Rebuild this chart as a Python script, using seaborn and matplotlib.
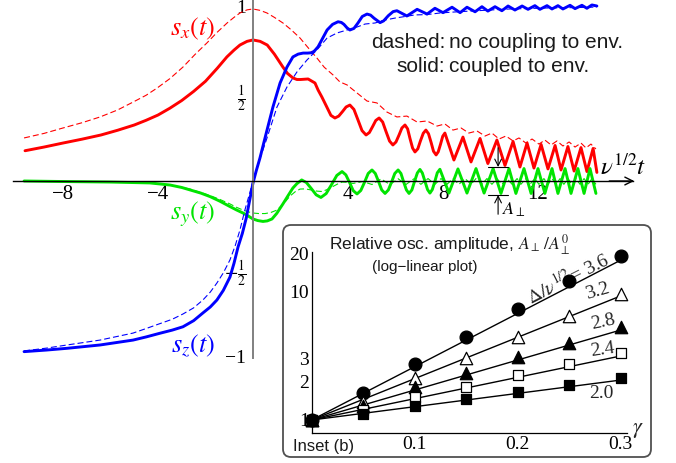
import matplotlib
matplotlib.use("Agg")
import matplotlib.pyplot as plt
import numpy as np
import pandas as pd
import seaborn as sns
from matplotlib.patches import FancyBboxPatch
from matplotlib.transforms import IdentityTransform
from matplotlib.ticker import FixedLocator, NullFormatter

# ---------------- main panel data ----------------
red_solid_t = [-9.6, -8.8, -8.0, -7.2, -6.4, -5.7, -5.0, -4.5, -4.0, -3.5,
               -3.0, -2.5, -2.0, -1.5, -1.1, -0.8, -0.55, -0.25, 0.0, 0.3,
               0.6, 0.9, 1.26, 1.45, 1.68, 1.85, 2.0, 2.32, 2.61, 2.74,
               2.9, 3.1, 3.28, 3.45, 3.61, 3.77, 3.92, 4.08, 4.25, 4.42,
               4.59, 4.76, 4.90, 5.04, 5.17, 5.31, 5.46, 5.60, 5.75, 5.89,
               6.02, 6.15, 6.27, 6.40, 6.51, 6.61, 6.72, 6.82, 6.94, 7.05,
               7.17, 7.28, 7.39, 7.50, 7.60, 7.71, 7.80, 7.90, 7.99, 8.08,
               8.46, 8.84, 9.18, 9.56, 9.89, 10.27, 10.61, 10.95, 11.24, 11.54,
               11.83, 12.13, 12.42, 12.72, 12.97, 13.26, 13.52, 13.81, 14.06, 14.32,
               14.48]
red_solid_s = [0.173, 0.194, 0.217, 0.239, 0.263, 0.29, 0.32, 0.347, 0.377, 0.416,
               0.46, 0.512, 0.57, 0.645, 0.709, 0.748, 0.777, 0.798, 0.806, 0.798,
               0.777, 0.725, 0.651, 0.615, 0.589, 0.58, 0.58, 0.583, 0.56, 0.52,
               0.48, 0.425, 0.375, 0.36, 0.371, 0.397, 0.423, 0.434, 0.409, 0.349,
               0.288, 0.263, 0.277, 0.312, 0.346, 0.36, 0.337, 0.283, 0.228, 0.206,
               0.223, 0.263, 0.303, 0.32, 0.298, 0.243, 0.188, 0.166, 0.184, 0.229,
               0.273, 0.291, 0.27, 0.22, 0.17, 0.149, 0.167, 0.212, 0.256, 0.274,
               0.12, 0.251, 0.109, 0.243, 0.10, 0.234, 0.089, 0.226, 0.08, 0.217,
               0.074, 0.209, 0.069, 0.203, 0.063, 0.197, 0.057, 0.191, 0.054, 0.186,
               0.049]

red_dash_t = [-9.64, -8.8, -8.0, -7.2, -6.44, -5.7, -5.05, -4.5, -4.04, -3.5,
              -2.95, -2.45, -1.94, -1.5, -1.09, -0.8, -0.55, -0.25, 0.0, 0.3,
              0.59, 0.9, 1.26, 1.6, 1.98, 2.3, 2.69, 3.0, 3.37, 3.66,
              3.96, 4.38, 4.80, 5.22, 5.64, 6.06, 6.48, 6.91, 7.33, 7.75,
              8.08, 8.42, 8.76, 9.09, 9.43, 9.77, 10.06, 10.36, 10.65, 10.95,
              11.2, 11.49, 11.75, 12.04, 12.29, 12.55, 12.8, 13.05, 13.31, 13.56,
              13.81, 14.02, 14.23, 14.44]
red_dash_s = [0.246, 0.272, 0.303, 0.333, 0.366, 0.406, 0.451, 0.49, 0.531, 0.585,
              0.651, 0.722, 0.789, 0.851, 0.903, 0.935, 0.96, 0.978, 0.983, 0.975,
              0.96, 0.935, 0.903, 0.865, 0.817, 0.765, 0.703, 0.65, 0.606, 0.566,
              0.549, 0.503, 0.457, 0.446, 0.394, 0.366, 0.371, 0.337, 0.343, 0.314,
              0.326, 0.291, 0.303, 0.274, 0.286, 0.257, 0.274, 0.24, 0.257, 0.229,
              0.246, 0.217, 0.24, 0.211, 0.234, 0.206, 0.229, 0.2, 0.223, 0.194,
              0.217, 0.189, 0.211, 0.183]

blue_solid_t = [-9.64, -8.7, -7.83, -6.44, -5.05, -4.5, -3.92, -3.4, -2.95, -2.5,
                -2.11, -1.8, -1.52, -1.25, -0.97, -0.8, -0.63, -0.45, -0.29, -0.14,
                0.0, 0.14, 0.29, 0.59, 0.84, 1.14, 1.43, 1.68, 1.9, 2.11,
                2.3, 2.48, 2.6, 2.74, 2.95, 3.12, 3.35, 3.58, 3.72, 3.83,
                3.96, 4.08, 4.25, 4.42, 4.6, 4.8, 4.95, 5.1, 5.35, 5.5,
                5.7, 5.9, 6.06, 6.48, 6.91, 7.33, 7.66, 8.0, 8.38, 8.72,
                9.01, 9.35, 9.64, 9.89, 10.19, 10.48, 10.74, 11.03, 11.33, 11.58,
                11.87, 12.08, 12.38, 12.59, 12.84, 13.05, 13.35, 13.56, 13.85, 14.06,
                14.27, 14.48]
blue_solid_s = [-0.975, -0.966, -0.956, -0.937, -0.909, -0.891, -0.87, -0.852, -0.833, -0.798,
                -0.754, -0.72, -0.68, -0.625, -0.549, -0.47, -0.377, -0.3, -0.215, -0.11,
                -0.011, 0.06, 0.13, 0.291, 0.423, 0.56, 0.651, 0.709, 0.725, 0.731,
                0.731, 0.733, 0.745, 0.767, 0.82, 0.863, 0.895, 0.91, 0.906, 0.895,
                0.875, 0.863, 0.872, 0.903, 0.94, 0.954, 0.948, 0.93, 0.905, 0.915,
                0.945, 0.968, 0.973, 0.943, 0.981, 0.954, 0.987, 0.962, 0.993, 0.962,
                0.993, 0.967, 0.996, 0.971, 0.996, 0.973, 1.0, 0.977, 1.0, 0.981,
                1.002, 0.981, 1.002, 0.983, 1.002, 0.983, 1.004, 0.985, 1.004, 0.987,
                1.006, 1.0]

blue_dash_t = [-9.64, -8.7, -7.83, -6.44, -5.05, -4.5, -3.92, -3.4, -2.95, -2.5,
               -2.11, -1.8, -1.52, -1.25, -0.97, -0.75, -0.55, -0.34, -0.13, 0.0,
               0.29, 0.59, 1.01, 1.43, 1.85, 2.27, 2.69, 3.12, 3.54, 3.96,
               4.38, 4.72, 5.14, 5.56, 5.98, 6.40, 6.82, 7.33, 7.87, 8.51,
               9.14, 9.98, 10.82, 11.66, 12.50, 13.56, 14.48]
blue_dash_s = [-0.971, -0.955, -0.937, -0.909, -0.869, -0.843, -0.815, -0.79, -0.76, -0.725,
               -0.68, -0.635, -0.583, -0.525, -0.451, -0.37, -0.28, -0.165, -0.065, 0.0,
               0.126, 0.246, 0.423, 0.537, 0.623, 0.691, 0.749, 0.817, 0.846, 0.863,
               0.88, 0.897, 0.903, 0.92, 0.931, 0.94, 0.949, 0.951, 0.96, 0.966,
               0.971, 0.977, 0.983, 0.986, 0.989, 0.991, 0.994]

green_solid_t = [-9.64, -8.0, -6.02, -4.34, -3.49, -3.0, -2.65, -2.2, -1.81, -1.4,
                 -0.97, -0.7, -0.42, -0.2, 0.0, 0.2, 0.42, 0.6, 0.8, 1.0,
                 1.26, 1.47, 1.68, 1.85, 2.05, 2.25, 2.46, 2.66, 2.86, 3.08,
                 3.31, 3.53, 3.75, 3.91, 4.07, 4.22, 4.38, 4.54, 4.70, 4.85,
                 5.01, 5.15, 5.29, 5.42, 5.56, 5.70, 5.84, 5.97, 6.11, 6.23,
                 6.34, 6.46, 6.57, 6.69, 6.80, 6.92, 7.03, 7.13, 7.24, 7.35,
                 7.45, 7.55, 7.66, 7.76, 7.87, 8.25, 8.63, 9.01, 9.39, 9.73,
                 10.11, 10.44, 10.78, 11.07, 11.41, 11.71, 12.0, 12.29, 12.59, 12.84,
                 13.14, 13.39, 13.68, 13.94, 14.19, 14.44]
green_solid_s = [0.0, -0.003, -0.006, -0.011, -0.023, -0.037, -0.051, -0.069, -0.089, -0.115,
                 -0.146, -0.165, -0.183, -0.2, -0.217, -0.226, -0.231, -0.228, -0.217, -0.185,
                 -0.131, -0.085, -0.04, -0.015, 0.006, -0.009, -0.044, -0.079, -0.094, -0.072,
                 -0.02, 0.032, 0.054, 0.035, -0.01, -0.055, -0.074, -0.054, -0.006, 0.043,
                 0.063, 0.043, -0.004, -0.051, -0.071, -0.051, -0.004, 0.043, 0.063, 0.043,
                 -0.004, -0.051, -0.071, -0.051, -0.003, 0.046, 0.066, 0.046, -0.002, -0.049,
                 -0.069, -0.049, -0.001, 0.047, 0.067, -0.069, 0.069, -0.069, 0.071, -0.069,
                 0.071, -0.071, 0.071, -0.071, 0.071, -0.071, 0.071, -0.071, 0.071, -0.071,
                 0.071, -0.071, 0.071, -0.071, 0.071, -0.071]

green_dash_t = [-9.64, -8.0, -6.02, -4.34, -3.49, -2.65, -1.81, -1.4, -0.97, -0.7,
                -0.42, -0.2, 0.0, 0.25, 0.51, 0.75, 1.01, 1.3, 1.56, 1.77,
                1.98, 2.2, 2.44, 2.7, 2.91, 3.1, 3.33, 3.55, 3.75, 3.95,
                4.21, 4.63, 5.01, 5.39, 5.77, 6.11, 6.44, 6.78, 7.07, 7.37,
                7.66, 7.92, 8.17, 8.42, 8.67, 8.93, 9.18, 9.39, 9.64, 9.85,
                10.06, 10.27, 10.48, 10.69, 10.91, 11.12, 11.28, 11.49, 11.66, 11.87,
                12.04, 12.25, 12.42, 12.59, 12.76, 12.93, 13.09, 13.26, 13.43, 13.6,
                13.77, 13.94, 14.11, 14.27, 14.44]
green_dash_s = [0.0, -0.003, -0.006, -0.011, -0.023, -0.046, -0.083, -0.105, -0.131, -0.15,
                -0.166, -0.176, -0.183, -0.186, -0.186, -0.18, -0.166, -0.128, -0.086, -0.062,
                -0.046, -0.045, -0.051, -0.058, -0.06, -0.05, -0.034, -0.018, -0.006, -0.007,
                -0.014, -0.003, -0.02, 0.012, -0.02, 0.013, -0.02, 0.013, -0.019, 0.014,
                -0.019, 0.014, -0.019, 0.014, -0.019, 0.014, -0.019, 0.014, -0.019, 0.014,
                -0.019, 0.014, -0.019, 0.014, -0.019, 0.014, -0.019, 0.014, -0.019, 0.014,
                -0.019, 0.014, -0.019, 0.014, -0.019, 0.014, -0.019, 0.014, -0.019, 0.014,
                -0.019, 0.014, -0.019, 0.014, -0.019]

x_ticks = [-8, -4, 4, 8, 12]
x_tick_labels = ["\u22128", "\u22124", "4", "8", "12"]
y_ticks = [-1, -0.5, 0.5, 1]
y_tick_labels = ["\u22121", r"$-\frac{1}{2}$", r"$\frac{1}{2}$", "1"]

# ---------------- inset data ----------------
gamma = [0.0, 0.05, 0.10, 0.15, 0.20, 0.25, 0.30]
amp_36 = [1.0, 1.63, 2.74, 4.47, 7.39, 12.2, 19.2]
amp_32 = [1.0, 1.39, 2.14, 3.06, 4.47, 6.52, 9.63]
amp_28 = [1.0, 1.29, 1.82, 2.31, 3.09, 4.02, 5.35]
amp_24 = [1.0, 1.20, 1.52, 1.82, 2.25, 2.74, 3.32]
amp_20 = [1.0, 1.11, 1.29, 1.45, 1.64, 1.88, 2.12]
fit_gamma = [0.0, 0.30]
fit_end = [17.7, 9.3, 5.04, 3.16, 2.05]
inset_yticks = [1, 2, 3, 10, 20]
inset_xticks = [0.1, 0.2, 0.3]

# ---------------- style ----------------
sns.set_theme(style="white")
plt.rcParams["font.family"] = ["Liberation Serif", "DejaVu Serif"]
plt.rcParams["mathtext.fontset"] = "stix"

RED, GREEN, BLUE = "#ff0000", "#00e400", "#0000ff"
W, H, DPI = 676, 463, 100
fig = plt.figure(figsize=(W / DPI, H / DPI), dpi=DPI)
fig.patch.set_facecolor("white")

ax = fig.add_axes([0, 0, 1, 1])
ax.patch.set_alpha(0)
ax.set_xlim(-10.653, 17.811)
ax.set_ylim(-1.6114, 1.0343)

DASH = dict(linestyle=(0, (5.4, 2.7)), linewidth=0.8)
SOLID = dict(linewidth=2.1, solid_joinstyle="round", solid_capstyle="round")


def curve(t, s, color, style):
    df = pd.DataFrame({"t": t, "s": s})
    sns.lineplot(data=df, x="t", y="s", ax=ax, color=color, sort=False,
                 estimator=None, errorbar=None, **style)


curve(red_dash_t, red_dash_s, RED, DASH)
curve(red_solid_t, red_solid_s, RED, SOLID)
curve(green_dash_t, green_dash_s, GREEN, DASH)
curve(green_solid_t, green_solid_s, GREEN, SOLID)
curve(blue_dash_t, blue_dash_s, BLUE, DASH)
curve(blue_solid_t, blue_solid_s, BLUE, SOLID)
ax.set_xlabel("")
ax.set_ylabel("")

for sp in ["top", "right"]:
    ax.spines[sp].set_visible(False)
ax.spines["left"].set_position(("data", 0))
ax.spines["bottom"].set_position(("data", 0))
ax.spines["left"].set_bounds(-1.01, 1.04)
ax.spines["left"].set_color("#808080")
ax.spines["left"].set_linewidth(1.4)
ax.spines["bottom"].set_bounds(-10.1, 16.0)
ax.spines["bottom"].set_color("black")
ax.spines["bottom"].set_linewidth(1.0)

ax.set_xticks(x_ticks)
ax.set_xticklabels(x_tick_labels)
ax.set_yticks(y_ticks)
ax.set_yticklabels(y_tick_labels)
ax.tick_params(axis="x", direction="in", length=4, width=0.8, pad=3,
               labelsize=15, colors="black")
ax.tick_params(axis="y", direction="inout", length=6, width=0.8, pad=2,
               labelsize=14, colors="#808080", labelcolor="black")
ax.annotate("", xy=(16.05, 0), xytext=(15.0, 0),
            arrowprops=dict(arrowstyle="->", color="black", lw=1.0,
                            mutation_scale=14, shrinkA=0, shrinkB=0))

# A_perp annotation
arr = dict(arrowstyle="->", color="black", lw=0.8, mutation_scale=12,
           shrinkA=0, shrinkB=0)
ax.annotate("", xy=(10.32, 0.08), xytext=(10.32, 0.19), arrowprops=arr)
ax.annotate("", xy=(10.32, -0.08), xytext=(10.32, -0.19), arrowprops=arr)
ax.plot([9.89, 10.74], [0.08, 0.08], color="black", lw=0.8)
ax.plot([9.89, 10.74], [-0.08, -0.08], color="black", lw=0.8)

# curve labels & legend text
fig.text(193 / W, 1 - 29 / H, r"$s_x(t)$", color=RED, fontsize=19, ha="center", va="center")
fig.text(193 / W, 1 - 214 / H, r"$s_y(t)$", color=GREEN, fontsize=19, ha="center", va="center")
fig.text(193 / W, 1 - 346 / H, r"$s_z(t)$", color=BLUE, fontsize=19, ha="center", va="center")
fig.text(623 / W, 1 - 167 / H, r"$\nu^{1/2}t$", color="black", fontsize=18, ha="center", va="center")
fig.text(514 / W, 1 - 210 / H, r"$A_{\perp}$", color="black", fontsize=13, ha="center", va="center")

sans = ["Liberation Sans", "DejaVu Sans"]
fig.text(445 / W, 1 - 42 / H, "dashed:", family=sans, fontsize=15, ha="right", va="center", color="#1a1a1a")
fig.text(449 / W, 1 - 42 / H, "no coupling to env.", family=sans, fontsize=15, ha="left", va="center", color="#1a1a1a")
fig.text(445 / W, 1 - 67 / H, "solid:", family=sans, fontsize=15, ha="right", va="center", color="#1a1a1a")
fig.text(449 / W, 1 - 67 / H, "coupled to env.", family=sans, fontsize=15, ha="left", va="center", color="#1a1a1a")

# ---------------- inset ----------------
box = FancyBboxPatch((283, 6), 368, 232, boxstyle="round,pad=0,rounding_size=8",
                     transform=IdentityTransform(), facecolor="white",
                     edgecolor="#505050", linewidth=1.3, zorder=2)
fig.add_artist(box)

ax_in = fig.add_axes([300 / W, 1 - 440 / H, 340 / W, 200 / H])
ax_in.set_zorder(3)
ax_in.patch.set_visible(False)
ax_in.set_yscale("log")
ax_in.set_xlim(-0.01136, 0.31874)
ax_in.set_ylim(0.698, 25.42)

for end in fit_end:
    sns.lineplot(x=fit_gamma, y=[1.0, end], ax=ax_in, color="black", lw=1.0,
                 estimator=None, errorbar=None, sort=False)

series = [
    (amp_36, "o", "black", 85),
    (amp_32, "^", "white", 80),
    (amp_28, "^", "black", 80),
    (amp_24, "s", "white", 60),
    (amp_20, "s", "black", 60),
]
for vals, mk, fc, sz in series:
    sns.scatterplot(x=gamma, y=vals, ax=ax_in, marker=mk, s=sz, color=fc,
                    edgecolor="black", linewidth=0.9, zorder=4)

for sp in ["top", "right"]:
    ax_in.spines[sp].set_visible(False)
ax_in.spines["left"].set_position(("data", 0))
ax_in.spines["bottom"].set_position(("data", 0.787))
ax_in.spines["left"].set_bounds(0.787, 20.6)
ax_in.spines["bottom"].set_bounds(0, 0.306)
for sp in ["left", "bottom"]:
    ax_in.spines[sp].set_color("black")
    ax_in.spines[sp].set_linewidth(0.9)

ax_in.yaxis.set_major_locator(FixedLocator(inset_yticks))
ax_in.yaxis.set_minor_locator(FixedLocator([4, 5, 6, 7, 8, 9]))
ax_in.yaxis.set_minor_formatter(NullFormatter())
ax_in.set_yticklabels([str(v) for v in inset_yticks])
ax_in.set_xticks(inset_xticks)
ax_in.set_xticklabels(["0.1", "0.2", "0.3"])
ax_in.tick_params(axis="both", which="major", direction="in", length=4, width=0.8,
                  labelsize=14, pad=2, colors="black")
ax_in.tick_params(axis="y", which="minor", direction="in", length=2.5, width=0.7, colors="black")
ax_in.set_xlabel("")
ax_in.set_ylabel("")

T = ax_in.transAxes
ax_in.text(0.441, 0.975, r"Relative osc. amplitude, $A_{\perp}\,/A_{\perp}^{0}$",
           transform=T, family=sans, fontsize=12.5, ha="center", va="center", color="#1a1a1a")
ax_in.text(0.368, 0.865, "(log\u2212linear plot)", transform=T, family=sans,
           fontsize=11, ha="center", va="center", color="#1a1a1a")
ax_in.text(0.0706, -0.035, "Inset (b)", transform=T, family=sans, fontsize=12,
           ha="center", va="center", color="#1a1a1a")
ax_in.text(0.788, 0.81, r"$\Delta/\nu^{1/2}$= 3.6", transform=T, fontsize=14,
           ha="center", va="center", rotation=27)
ax_in.text(0.874, 0.745, "3.2", transform=T, fontsize=14, ha="center", va="center", rotation=16)
ax_in.text(0.891, 0.59, "2.8", transform=T, fontsize=14, ha="center", va="center", rotation=12)
ax_in.text(0.891, 0.45, "2.4", transform=T, fontsize=14, ha="center", va="center", rotation=8)
ax_in.text(0.885, 0.235, "2.0", transform=T, fontsize=14, ha="center", va="center")
ax_in.text(0.994, 0.045, r"$\gamma$", transform=T, fontsize=16, ha="center", va="center")

fig.savefig("out.png", dpi=DPI)
